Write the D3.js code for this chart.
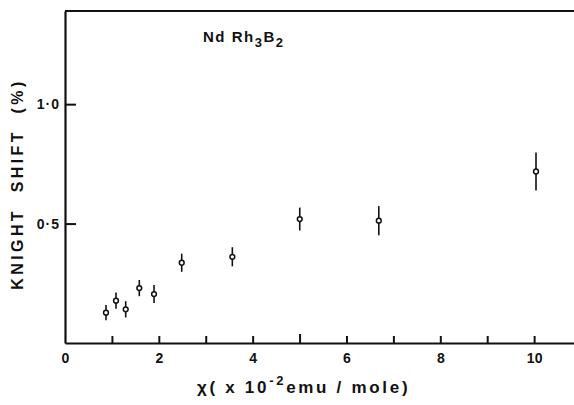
<html>
<head>
  <style>
    body { margin: 0; background: #fff; }
    svg text { font-family: "Liberation Sans", Arial, sans-serif; font-weight: bold; fill: #111; }
  </style>
</head>
<body>
  <div id="elm"></div>
  <script src="https://d3js.org/d3.v7.min.js"></script>
  <script>
  'use strict';

  // susceptibility (x 10^-2 emu/mole)
  var chi = [0.874, 1.087, 1.294, 1.584, 1.898, 2.488, 3.567, 5.004, 6.689, 10.04];
  // Knight shift (%)
  var shift = [0.127, 0.177, 0.141, 0.230, 0.205, 0.336, 0.361, 0.519, 0.512, 0.718];
  // error bar half-heights (%)
  var err = [0.032, 0.034, 0.034, 0.034, 0.038, 0.038, 0.040, 0.048, 0.061, 0.080];

  var xTicks = [0, 1, 2, 3, 4, 5, 6, 7, 8, 9, 10];
  var yTicks = [0.5, 1.0];

  var W = 574, H = 405;
  var svg = d3.select('#elm').append('svg').attr('width', W).attr('height', H);

  var x = d3.scaleLinear().domain([0, 10.85]).range([65, 574]);
  var y = d3.scaleLinear().domain([0, 1.39]).range([343, 11]);

  // frame: top border + left axis
  svg.append('line').attr('x1', x(0)).attr('x2', W).attr('y1', y(1.39)).attr('y2', y(1.39))
    .attr('stroke', '#111').attr('stroke-width', 2);

  var xAxis = d3.axisBottom(x).tickValues(xTicks)
    .tickSizeInner(-7).tickSizeOuter(0).tickPadding(10)
    .tickFormat(function(d) { return d % 2 === 0 ? d : ''; });
  var gx = svg.append('g').attr('transform', 'translate(0,' + y(0) + ')').call(xAxis);
  gx.select('.domain').attr('stroke', '#111').attr('stroke-width', 2.2);
  gx.selectAll('.tick line').attr('stroke', '#111').attr('stroke-width', 2)
    .attr('y2', function(d) { return d === 0 ? 0 : (d === 5 ? -9 : -7); });
  gx.selectAll('.tick text').attr('font-size', 14).style('font-family', '"Liberation Sans", Arial, sans-serif')
    .style('font-weight', 'bold').attr('fill', '#111');

  var yAxis = d3.axisLeft(y).tickValues(yTicks)
    .tickSizeInner(-11).tickSizeOuter(0).tickPadding(5)
    .tickFormat(function(d) { return d3.format('.1f')(d).replace('.', '\u00b7'); });
  var gy = svg.append('g').attr('transform', 'translate(' + x(0) + ',0)').call(yAxis);
  gy.select('.domain').attr('stroke', '#111').attr('stroke-width', 2.2);
  gy.selectAll('.tick line').attr('stroke', '#111').attr('stroke-width', 2);
  gy.selectAll('.tick text').attr('font-size', 14).attr('letter-spacing', 1)
    .style('font-family', '"Liberation Sans", Arial, sans-serif')
    .style('font-weight', 'bold').attr('fill', '#111');

  // error bars
  svg.append('g').selectAll('line').data(chi).join('line')
    .attr('x1', function(d) { return x(d); })
    .attr('x2', function(d) { return x(d); })
    .attr('y1', function(d, i) { return y(shift[i] + err[i]); })
    .attr('y2', function(d, i) { return y(shift[i] - err[i]); })
    .attr('stroke', '#111').attr('stroke-width', 1.6);

  // points
  svg.append('g').selectAll('circle').data(chi).join('circle')
    .attr('cx', function(d) { return x(d); })
    .attr('cy', function(d, i) { return y(shift[i]); })
    .attr('r', 2.4).attr('fill', '#fff').attr('stroke', '#111').attr('stroke-width', 1.5);

  // compound label
  var t = svg.append('text').attr('x', 203).attr('y', 42).attr('font-size', 15).attr('letter-spacing', 1.5);
  t.append('tspan').text('Nd Rh');
  t.append('tspan').attr('dy', 5).attr('font-size', 13).text('3');
  t.append('tspan').attr('dy', -5).text('B');
  t.append('tspan').attr('dy', 5).attr('font-size', 13).text('2');

  // y label
  svg.append('text').attr('transform', 'translate(23,184) rotate(-90)')
    .attr('text-anchor', 'middle').attr('font-size', 16).attr('letter-spacing', 3.4)
    .style('white-space', 'pre')
    .text('KNIGHT  SHIFT  (%)');

  // x label
  var xl = svg.append('text').attr('x', 197).attr('y', 393).attr('font-size', 17).attr('letter-spacing', 2.7)
    .style('white-space', 'pre');
  xl.append('tspan').text('\u03c7( x 10');
  xl.append('tspan').attr('dy', -8).attr('font-size', 13).text('-2');
  xl.append('tspan').attr('dy', 8).text('emu / mole)');
  </script>
</body>
</html>
